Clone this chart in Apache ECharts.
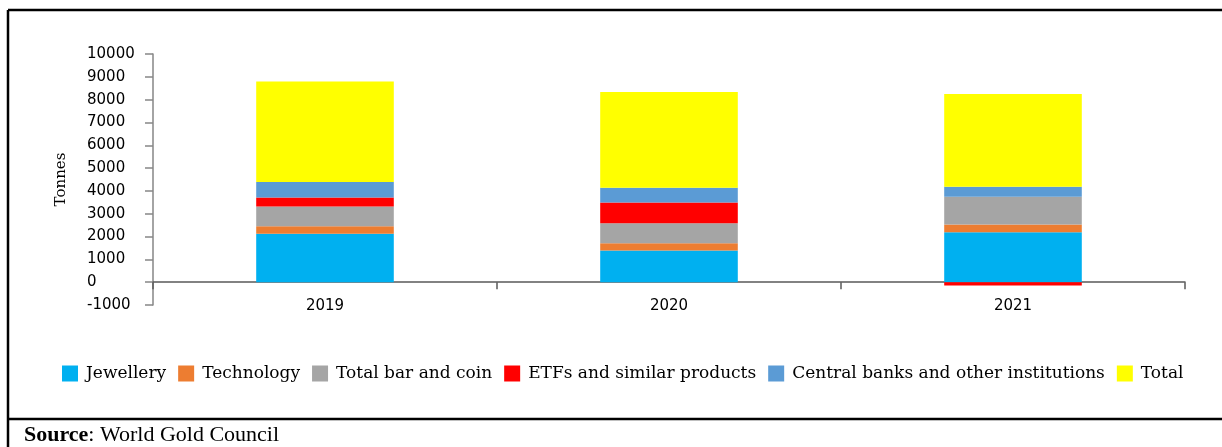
<!DOCTYPE html>
<html>
<head>
<meta charset="utf-8">
<script src="https://cdn.jsdelivr.net/npm/echarts@6/dist/echarts.min.js"></script>
<style>
html,body{margin:0;padding:0;background:#fff;}
#chart{width:1222px;height:447px;}
</style>
</head>
<body>
<div id="chart"></div>
<script>
const categories = ['2019', '2020', '2021'];
const jewellery = [2118, 1386, 2193];
const technology = [338, 325, 333];
const barAndCoin = [860, 877, 1215];
const etfs = [395, 904, -149];
const centralBanks = [675, 645, 439];
const total = [4412, 4197, 4066];
const seriesNames = ['Jewellery', 'Technology', 'Total bar and coin', 'ETFs and similar products', 'Central banks and other institutions', 'Total'];
const seriesColors = ['#00B0F0', '#ED7D31', '#A5A5A5', '#FF0000', '#5B9BD5', '#FFFF00'];
const seriesData = [jewellery, technology, barAndCoin, etfs, centralBanks, total];

const chart = echarts.init(document.getElementById('chart'), null, {renderer: 'canvas'});
const serif = 'DejaVu Serif';
const sans = 'DejaVu Sans';

chart.setOption({
  animation: false,
  backgroundColor: '#ffffff',
  grid: {left: 153, right: 37, top: 54, bottom: 142, containLabel: false},
  legend: {
    top: 360,
    left: 57,
    itemWidth: 16,
    itemHeight: 16,
    itemGap: 12,
    icon: 'rect',
    textStyle: {fontFamily: serif, fontSize: 17, color: '#000', padding: [0, 0, 0, 3]},
    data: seriesNames
  },
  xAxis: {
    type: 'category',
    data: categories,
    axisLine: {onZero: true, lineStyle: {color: '#595959', width: 1.5}},
    axisTick: {show: true, length: 7, lineStyle: {color: '#595959', width: 1.5}},
    axisLabel: {fontFamily: sans, fontSize: 15, color: '#000', margin: -6},
    splitLine: {show: false}
  },
  yAxis: {
    type: 'value',
    min: -1000,
    max: 10000,
    interval: 1000,
    name: 'Tonnes',
    nameLocation: 'middle',
    nameRotate: 90,
    nameGap: 84,
    nameTextStyle: {fontFamily: serif, fontSize: 15, color: '#000'},
    axisLine: {show: true, lineStyle: {color: '#868686', width: 1.5}},
    axisTick: {show: true, length: 8, lineStyle: {color: '#868686', width: 1.5}},
    axisLabel: {fontFamily: sans, fontSize: 15, color: '#000', align: 'left', margin: 66, formatter: v => String(v)},
    splitLine: {show: false}
  },
  series: seriesNames.map((n, i) => ({
    name: n,
    type: 'bar',
    stack: 'gold',
    barWidth: '40%',
    data: seriesData[i],
    itemStyle: {color: seriesColors[i]}
  })),
  graphic: [
    {type: 'line', shape: {x1: 8, y1: 10, x2: 1222, y2: 10}, style: {stroke: '#000', lineWidth: 2.5}, silent: true},
    {type: 'line', shape: {x1: 8, y1: 10, x2: 8, y2: 447}, style: {stroke: '#000', lineWidth: 2.5}, silent: true},
    {type: 'line', shape: {x1: 8, y1: 419, x2: 1222, y2: 419}, style: {stroke: '#000', lineWidth: 2.5}, silent: true},
    {
      type: 'text', left: 24, top: 424, silent: true,
      style: {
        text: '{b|Source}: World Gold Council',
        font: '22px "Liberation Serif"',
        fill: '#000',
        rich: {b: {fontFamily: 'Liberation Serif', fontSize: 22, fontWeight: 'bold', fill: '#000'}}
      }
    }
  ]
});
</script>
</body>
</html>
